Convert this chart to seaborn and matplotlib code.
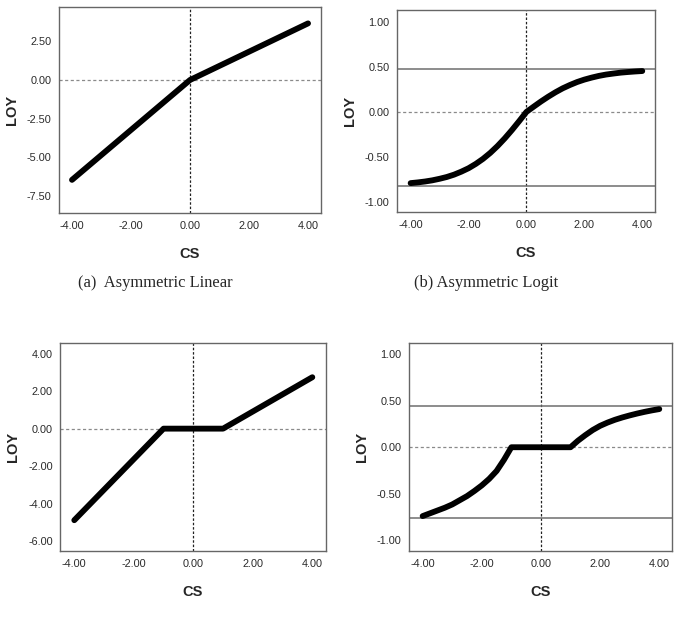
import matplotlib
matplotlib.use("Agg")
import matplotlib.pyplot as plt
import numpy as np
import seaborn as sns
from matplotlib.ticker import FormatStrFormatter

# (a) asymmetric linear
CS_A = [-4.0, 0.0, 4.0]
LOY_A = [-6.46, 0.0, 3.66]

# (b) asymmetric logit
CS_B = [-4.0, -3.75, -3.5, -3.25, -3.0, -2.75, -2.5, -2.25, -2.0, -1.75, -1.5,
        -1.25, -1.0, -0.75, -0.5, -0.25, 0.0, 0.25, 0.5, 0.75, 1.0, 1.25, 1.5,
        1.75, 2.0, 2.25, 2.5, 2.75, 3.0, 3.25, 3.5, 3.75, 4.0]
LOY_B = [-0.790, -0.782, -0.772, -0.759, -0.742, -0.722, -0.696, -0.663,
         -0.625, -0.577, -0.521, -0.455, -0.379, -0.294, -0.201, -0.102, 0.0,
         0.058, 0.115, 0.168, 0.217, 0.261, 0.298, 0.331, 0.358, 0.380, 0.399,
         0.414, 0.425, 0.435, 0.442, 0.448, 0.453]
BOUNDS_B = [0.47, -0.82]

# (c) linear with dead zone
CS_C = [-4.0, -1.0, 1.0, 4.0]
LOY_C = [-4.88, 0.0, 0.0, 2.74]

# (d) logit with dead zone
CS_D = [-4.0, -3.75, -3.5, -3.25, -3.0, -2.75, -2.5, -2.25, -2.0, -1.75, -1.5,
        -1.25, -1.0, 1.0, 1.25, 1.5, 1.75, 2.0, 2.25, 2.5, 2.75, 3.0, 3.25,
        3.5, 3.75, 4.0]
LOY_D = [-0.74, -0.71, -0.68, -0.65, -0.615, -0.57, -0.525, -0.47, -0.41,
         -0.34, -0.255, -0.135, 0.0, 0.0, 0.07, 0.13, 0.185, 0.23, 0.265, 0.295,
         0.32, 0.342, 0.362, 0.38, 0.396, 0.41]
BOUNDS_D = [0.44, -0.765]

X_TICKS = [-4, -2, 0, 2, 4]
Y_TICKS_A = [-7.5, -5.0, -2.5, 0.0, 2.5]
Y_TICKS_C = [-6, -4, -2, 0, 2, 4]
Y_TICKS_LOGIT = [-1.0, -0.5, 0.0, 0.5, 1.0]

CAPTIONS = ["(a)  Asymmetric Linear", "(b) Asymmetric Logit"]


def panel(fig, rect, xs, ys, yticks, ylim, xlim, bounds=None):
    ax = fig.add_axes(rect)
    ax.axhline(0, color="#8a8a8a", lw=0.9, ls=(0, (2.5, 2)), zorder=1)
    ax.axvline(0, color="#222222", lw=0.9, ls=(0, (2, 1.5)), zorder=1)
    for b in bounds or []:
        ax.axhline(b, color="#6e6e6e", lw=1.1, zorder=1)
    sns.lineplot(x=xs, y=ys, ax=ax, color="black", lw=4.2, sort=False,
                 estimator=None, solid_capstyle="round",
                 solid_joinstyle="round", zorder=3)
    ax.set_xlim(*xlim)
    ax.set_ylim(*ylim)
    ax.set_xticks(X_TICKS)
    ax.set_yticks(yticks)
    ax.xaxis.set_major_formatter(FormatStrFormatter("%.2f"))
    ax.yaxis.set_major_formatter(FormatStrFormatter("%.2f"))
    ax.tick_params(axis="both", direction="out", length=4, width=0.8,
                   labelsize=7.8, labelcolor="#2a2a2a", color="#333333", pad=1.5)
    for s in ax.spines.values():
        s.set_visible(True)
        s.set_color("#666666")
        s.set_linewidth(1.0)
    ax.set_xlabel("CS", fontsize=10.5, fontweight="bold")
    ax.set_ylabel("LOY", fontsize=10.5, fontweight="bold")
    h = rect[3] * 624
    w = rect[2] * 679
    ax.xaxis.set_label_coords(0.5, -34 / h)
    ax.yaxis.set_label_coords(-40 / w, 0.5)
    return ax


sns.set_theme(style="white")
plt.rcParams["font.family"] = ["Liberation Sans", "DejaVu Sans"]

fig = plt.figure(figsize=(6.79, 6.24), dpi=100)
fig.patch.set_facecolor("white")

panel(fig, [0.0869, 0.6587, 0.3859, 0.3301], CS_A, LOY_A, Y_TICKS_A,
      (-8.6, 4.72), (-4.44, 4.44))
panel(fig, [0.5847, 0.6603, 0.3800, 0.3237], CS_B, LOY_B, Y_TICKS_LOGIT,
      (-1.11, 1.13), (-4.47, 4.44), BOUNDS_B)
panel(fig, [0.0888, 0.1170, 0.3909, 0.3338], CS_C, LOY_C, Y_TICKS_C,
      (-6.52, 4.58), (-4.47, 4.45))
panel(fig, [0.6024, 0.1170, 0.3873, 0.3333], CS_D, LOY_D, Y_TICKS_LOGIT,
      (-1.115, 1.12), (-4.46, 4.43), BOUNDS_D)

fig.text(155 / 679, 1 - 283 / 624, CAPTIONS[0], ha="center", va="center",
         fontsize=11.9, family=["Liberation Serif", "DejaVu Serif"])
fig.text(486 / 679, 1 - 283 / 624, CAPTIONS[1], ha="center", va="center",
         fontsize=11.9, family=["Liberation Serif", "DejaVu Serif"])

fig.savefig("out.png", dpi=100, facecolor="white")
plt.close(fig)
